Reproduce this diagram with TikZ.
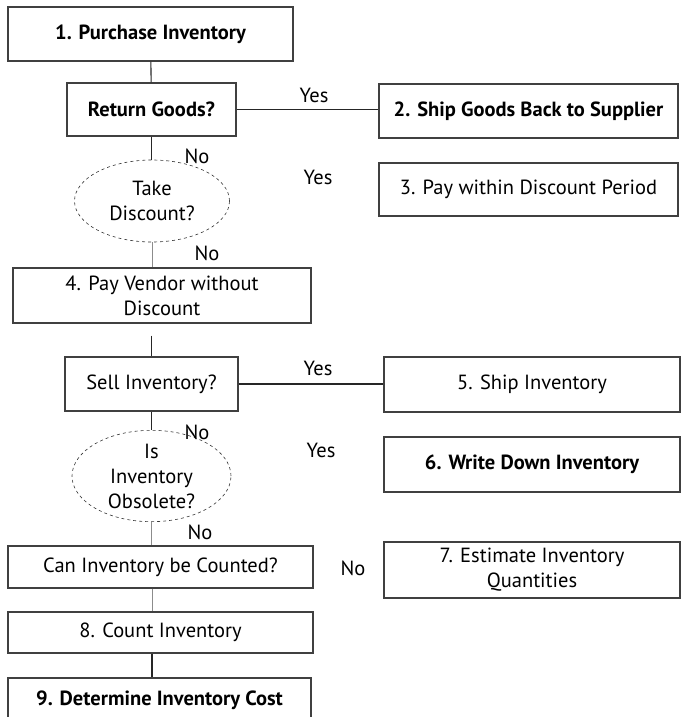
\documentclass[tikz,border=0pt]{standalone}
\usepackage{fontspec}
\setmainfont{PT Sans}
\usetikzlibrary{shapes.geometric}

\tikzset{
  box/.style={draw=black!75, line width=1.1pt, inner sep=2pt, align=center,
    font=\fontsize{20.5}{25}\selectfont},
  boldbox/.style={box, font=\fontsize{20.5}{25}\selectfont\bfseries},
  oval/.style={ellipse, draw=black!80, dashed, line width=0.6pt, inner sep=0pt,
    align=center, font=\fontsize{20.5}{25}\selectfont},
  lbl/.style={font=\fontsize{20.5}{25}\selectfont},
  link/.style={draw=black!85, line width=1.1pt},
  thin link/.style={draw=black!45, line width=0.9pt}
}

\begin{document}
\begin{tikzpicture}[x=1pt,y=-1pt]

\useasboundingbox (0,0) rectangle (680,717) ;

% main column
\node[boldbox, minimum width=285pt, minimum height=54pt] (pur) at (150.5,34) {1. Purchase Inventory} ;
\node[boldbox, minimum width=169pt, minimum height=53pt] (ret) at (151.5,109.5) {Return Goods?} ;
\node[oval, minimum width=155pt, minimum height=82pt] (disc) at (152,201) {Take\\Discount?} ;
\node[box, minimum width=298pt, minimum height=55pt] (pay) at (162,295.5) {4. Pay Vendor without\\Discount} ;
\node[box, minimum width=173pt, minimum height=54pt] (sell) at (151.5,384) {Sell Inventory?} ;
\node[oval, minimum width=159pt, minimum height=86pt] (obs) at (151.5,476) {Is\\Inventory\\Obsolete?} ;
\node[box, minimum width=305pt, minimum height=42pt] (cnt) at (160.5,567) {Can Inventory be Counted?} ;
\node[box, minimum width=305pt, minimum height=41pt] (count) at (160.5,632.5) {8. Count Inventory} ;
\node[boldbox, minimum width=303pt, minimum height=44pt] (cost) at (159.5,700) {9. Determine Inventory Cost} ;

% right column
\node[boldbox, minimum width=299pt, minimum height=54pt] (ship) at (528.5,111) {2. Ship Goods Back to Supplier} ;
\node[box, minimum width=299pt, minimum height=53pt] (dpay) at (528.5,189.5) {3. Pay within Discount Period} ;
\node[box, minimum width=296pt, minimum height=55pt] (shipinv) at (532,384.5) {5. Ship Inventory} ;
\node[boldbox, minimum width=296pt, minimum height=55pt] (wdown) at (532,464.5) {6. Write Down Inventory} ;
\node[box, minimum width=296pt, minimum height=56pt] (est) at (532,570) {7. Estimate Inventory\\Quantities} ;

% connectors
\draw[link] (pur) -- (ret) ;
\draw[link] (ret.east) -- (ret.east -| ship.west) ;
\draw[link] (ret.south) -- (ret.south |- disc.north) ;
\draw[thin link] (disc.south) -- (disc.south |- pay.north) ;
\draw[link, shorten <=12pt] (sell.north |- pay.south) -- (sell.north) ;
\draw[link] (sell.east) -- (sell.east -| shipinv.west) ;
\draw[link] (sell.south) -- (sell.south |- obs.north) ;
\draw[thin link] (obs.south) -- (obs.south |- cnt.north) ;
\draw[thin link] ([xshift=-8.5pt]cnt.south) -- ([xshift=-8.5pt]count.north) ;
\draw[link] ([xshift=-8.5pt]count.south) -- ([xshift=-7.5pt]cost.north) ;

% answers
\node[lbl] (y1) at (314,95) {Yes} ;
\node[lbl] (n1) at (197,156) {No} ;
\node[lbl] (y2) at (318,177) {Yes} ;
\node[lbl] (n2) at (207,253) {No} ;
\node[lbl] (y3) at (318,368) {Yes} ;
\node[lbl] (n3) at (197,432) {No} ;
\node[lbl] (y4) at (321,450) {Yes} ;
\node[lbl] (n4) at (200,532) {No} ;
\node[lbl] (n5) at (353,568) {No} ;

\end{tikzpicture}
\end{document}
